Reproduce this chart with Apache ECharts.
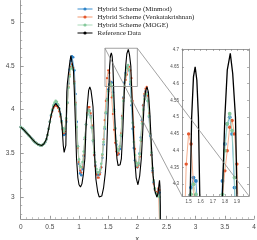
<!DOCTYPE html>
<html><head><meta charset="utf-8">
<script src="https://cdn.jsdelivr.net/npm/echarts@6/dist/echarts.min.js"></script>
<style>html,body{margin:0;padding:0;background:#fff}#c{width:257px;height:240px}</style>
</head><body><div id="c"></div>
<script>
// ---------- data ----------
const xNum = [0.00,0.02,0.04,0.06,0.08,0.10,0.12,0.14,0.16,0.18,0.20,0.22,0.24,0.26,0.28,0.30,0.32,0.34,0.36,0.38,0.40,0.42,0.44,0.46,0.48,0.50,
0.52,0.54,0.56,0.58,0.60,0.62,0.64,0.66,0.68,0.70,0.72,0.74,0.76,0.78,0.80,0.82,0.84,0.86,0.88,0.90,
0.92,0.94,0.96,0.98,1.00,1.02,1.04,1.06,1.08,1.10,1.12,1.14,1.16,1.18,1.20,1.22,1.24,1.26,1.28,1.30,
1.32,1.34,1.36,1.38,1.40,1.42,1.44,1.46,1.48,1.50,1.52,1.54,1.56,1.58,1.60,1.62,1.64,1.66,1.68,1.70,
1.72,1.74,1.76,1.78,1.80,1.82,1.84,1.86,1.88,1.90,1.92,1.94,1.96,1.98,2.00,2.02,2.04,2.06,2.08,2.10,
2.12,2.14,2.16,2.18,2.20,2.22,2.24,2.26,2.28,2.30,2.32,2.34,2.36,2.38,2.40,2.42];

const minmod = [3.80,3.79,3.78,3.765,3.75,3.735,3.72,3.705,3.69,3.675,3.66,3.645,3.63,3.62,3.61,3.60,3.595,3.59,3.59,3.60,3.61,3.63,3.66,3.71,3.78,3.86,
3.93,3.99,4.03,4.06,4.07,4.07,4.05,4.01,3.95,3.87,
3.78,3.71,3.72,3.86,4.08,4.30,4.46,4.56,4.61,4.60,
4.45,4.18,3.86,3.58,3.38,3.27,3.25,3.32,3.47,3.66,
3.83,3.95,4.00,3.99,3.93,3.80,3.64,3.48,3.36,3.28,
3.25,3.25,3.28,3.34,3.45,3.60,3.78,3.96,4.12,4.23,
4.29,4.32,4.31,4.20,4.00,3.78,3.60,3.50,3.49,3.55,
3.70,3.92,4.14,4.31,4.42,4.48,4.50,4.45,4.29,4.05,
3.78,3.56,3.42,3.35,3.34,3.38,3.50,3.68,3.88,4.05,
4.16,4.21,4.20,4.10,3.92,3.70,3.48,3.30,3.17,3.09,
3.05,3.04,3.08,3.05,2.20,1.10];

const venkat = [3.80,3.79,3.78,3.765,3.75,3.735,3.72,3.705,3.69,3.675,3.66,3.645,3.63,3.62,3.61,3.60,3.595,3.59,3.59,3.60,3.61,3.63,3.66,3.71,3.78,3.86,
3.92,3.98,4.02,4.04,4.05,4.04,4.02,3.98,3.92,3.85,
3.77,3.73,3.75,3.88,4.07,4.26,4.40,4.49,4.52,4.48,
4.32,4.08,3.80,3.56,3.40,3.30,3.28,3.34,3.48,3.66,
3.83,3.96,4.03,4.03,3.96,3.82,3.65,3.48,3.35,3.26,
3.22,3.22,3.26,3.34,3.48,3.66,3.88,4.10,4.36,4.45,
4.42,4.30,4.14,3.95,3.77,3.62,3.52,3.48,3.50,3.58,
3.73,3.93,4.13,4.26,4.34,4.40,4.47,4.49,4.45,4.36,
4.10,3.80,3.55,3.40,3.34,3.36,3.46,3.64,3.86,4.05,
4.18,4.24,4.26,4.16,3.96,3.72,3.48,3.28,3.15,3.08,
3.06,3.05,3.10,3.08,2.30,1.10];

const moge = [3.80,3.79,3.78,3.765,3.75,3.735,3.72,3.705,3.69,3.675,3.66,3.645,3.63,3.62,3.61,3.60,3.595,3.59,3.59,3.60,3.61,3.63,3.66,3.71,3.78,3.86,
3.94,4.00,4.05,4.08,4.10,4.09,4.06,4.01,3.94,3.86,
3.79,3.75,3.78,3.90,4.08,4.25,4.38,4.47,4.50,4.46,
4.30,4.06,3.80,3.58,3.43,3.35,3.34,3.40,3.52,3.68,
3.83,3.94,3.99,3.98,3.91,3.79,3.65,3.51,3.40,3.32,
3.28,3.28,3.31,3.38,3.49,3.63,3.80,3.97,4.11,4.21,
4.27,4.30,4.27,4.16,3.98,3.79,3.64,3.55,3.53,3.58,
3.71,3.90,4.10,4.27,4.40,4.48,4.51,4.46,4.32,4.10,
3.85,3.63,3.48,3.39,3.36,3.39,3.49,3.65,3.84,4.00,
4.12,4.18,4.18,4.10,3.93,3.72,3.51,3.33,3.19,3.10,
3.04,3.01,3.02,3.00,2.25,1.10];

const refX = [0,0.05,0.10,0.15,0.20,0.25,0.30,0.36,0.40,0.44,0.48,0.52,0.56,0.60,0.63,0.66,0.69,0.71,0.73,0.745,
0.757,0.767,0.774,0.782,0.79,0.80,0.82,0.84,0.86,0.875,0.89,0.905,0.92,0.935,0.957,0.98,1.00,1.025,1.05,1.075,
1.10,1.12,1.14,1.165,1.185,1.205,1.225,1.24,1.255,1.27,1.29,1.32,1.345,1.368,1.39,1.42,1.45,1.47,1.49,1.505,
1.513,1.525,1.54,1.554,1.568,1.581,1.592,1.61,1.63,1.65,1.67,1.686,1.705,1.726,1.75,1.78,1.80,1.82,1.845,1.865,
1.888,1.90,1.92,1.94,1.954,1.98,2.01,2.04,2.068,2.09,2.115,2.14,2.165,2.19,2.215,2.24,2.27,2.30,2.335,2.355,
2.37,2.38,2.388,2.394,2.396];
const refY = [3.80,3.77,3.735,3.70,3.66,3.625,3.60,3.59,3.61,3.66,3.78,3.93,4.03,4.07,4.065,4.02,3.92,3.80,3.59,3.51,
3.50,3.53,3.59,3.90,4.20,4.30,4.42,4.53,4.62,4.64,4.60,4.45,4.20,3.90,3.44,3.22,3.14,3.115,3.15,3.26,
3.44,3.80,4.03,4.22,4.26,4.22,4.12,4.03,3.75,3.44,3.20,3.06,3.00,2.99,3.01,3.10,3.27,3.44,3.85,4.15,
4.27,4.50,4.62,4.65,4.61,4.50,4.27,3.95,3.65,3.44,3.36,3.345,3.37,3.44,3.75,4.27,4.50,4.64,4.69,4.63,
4.50,4.27,3.95,3.62,3.44,3.22,3.14,3.24,3.44,3.72,4.05,4.21,4.26,4.20,3.95,3.60,3.25,3.07,3.00,3.04,
3.14,3.19,3.12,2.90,1.00];

const seriesNames = ['Hybrid Scheme (Minmod)','Hybrid Scheme (Venkatakrishnan)','Hybrid Scheme (MOGE)','Reference Data'];
const mainYTicks = [3,3.5,4,4.5,5];
const mainYMinor = [2.8,2.9,3.1,3.2,3.3,3.4,3.6,3.7,3.8,3.9,4.1,4.2,4.3,4.4,4.6,4.7,4.8,4.9,5.1,5.2];
const zoomX = [1.445, 2.0];
const zoomY = [4.265, 4.703];
const insetXTicks = [1.5,1.6,1.7,1.8,1.9];
const insetXTickMarks = [1.45,1.5,1.55,1.6,1.65,1.7,1.75,1.8,1.85,1.9,1.95];
const insetYTicks = [4.3,4.35,4.4,4.45,4.5,4.55,4.6,4.65,4.7];

// ---------- chart ----------
const AX = '#808080', LB = '#4a4a4a';
const pair = (xs, ys) => xs.map((x, i) => [x, ys[i]]);
const styles = [
  {line:'#3a8fd0', sym:'#2f84c8', size:2.6, w:0.8},
  {line:'#f29a72', sym:'#e4572e', size:2.2, w:0.8},
  {line:'#a9d9b8', sym:'#86c99c', size:2.6, w:0.8},
];
const dataSets = [pair(xNum, minmod), pair(xNum, venkat), pair(xNum, moge), pair(refX, refY)];

const series = [];
[[0,0],[1,2]].forEach(([xi, yi], gi) => {
  dataSets.forEach((d, k) => {
    const isRef = k === 3;
    series.push({
      type:'line', name: seriesNames[k], data: d, xAxisIndex: xi, yAxisIndex: yi,
      showSymbol: !isRef, showAllSymbol: true, symbol: 'circle',
      symbolSize: isRef ? 0 : (gi ? styles[k].size + 1.2 : styles[k].size),
      lineStyle: isRef ? {color:'#000', width: gi ? 1.3 : 1.1} : {color: styles[k].line, width: styles[k].w},
      itemStyle: isRef ? {color:'#000'} : {color: styles[k].sym},
      clip: true, silent: true, z: (gi ? 20 : 2) + (isRef ? 1 : k * 0.1)
    });
  });
});

const chart = echarts.init(document.getElementById('c'), null, {renderer:'canvas'});
const axLine = {show:true, lineStyle:{color:AX, width:0.8}};
chart.setOption({
  animation:false,
  backgroundColor:'#fff',
  legend:{
    data: seriesNames, orient:'vertical', left:77, top:5, padding:0,
    itemWidth:15, itemHeight:4, itemGap:0,
    lineStyle:{width:1},
    textStyle:{fontFamily:'Liberation Serif', fontSize:7, color:'#222', lineHeight:8}
  },
  grid:[
    {left:20.7, top:0.5, width:233.3, height:218.3, outerBoundsMode:'none', containLabel:false},
    {left:182, top:49, width:67, height:147, show:true, backgroundColor:'#fff', borderWidth:0, z:10, outerBoundsMode:'none', containLabel:false}
  ],
  xAxis:[
    {gridIndex:0, type:'value', min:0, max:4, interval:0.5,
     axisLine:axLine, axisTick:{inside:true, length:3, lineStyle:{color:AX, width:0.8}},
     minorTick:{show:true, splitNumber:5, length:1.5, lineStyle:{color:AX, width:0.6}},
     axisLabel:{fontSize:6.5, color:LB, margin:5, fontFamily:'Liberation Sans'},
     splitLine:{show:false}, minorSplitLine:{show:false},
     name:'x', nameLocation:'middle', nameGap:15, nameTextStyle:{fontSize:7, color:'#333', fontFamily:'Liberation Sans'}},
    {gridIndex:1, type:'value', min:zoomX[0], max:zoomX[1], position:'bottom', z:30,
     axisLine:axLine, axisTick:{inside:true, length:2, customValues:insetXTickMarks, lineStyle:{color:AX, width:0.6}},
     axisLabel:{fontSize:4.5, color:LB, margin:3, customValues:insetXTicks, fontFamily:'Liberation Sans'},
     splitLine:{show:false}},
    {gridIndex:1, type:'value', min:zoomX[0], max:zoomX[1], position:'top', z:30,
     axisLine:axLine, axisTick:{inside:true, length:2, customValues:insetXTickMarks, lineStyle:{color:AX, width:0.6}},
     axisLabel:{show:false}, splitLine:{show:false}}
  ],
  yAxis:[
    {gridIndex:0, type:'value', min:2.75, max:5.25, position:'left',
     axisLine:axLine, axisTick:{inside:true, length:3, customValues:mainYTicks, lineStyle:{color:AX, width:0.8}},
     axisLabel:{fontSize:6.5, color:LB, margin:6, customValues:mainYTicks, fontFamily:'Liberation Sans'},
     splitLine:{show:false},
     name:'Density', nameLocation:'middle', nameGap:15, nameTextStyle:{fontSize:6.5, color:'#333', fontFamily:'Liberation Sans'}},
    {gridIndex:0, type:'value', min:2.75, max:5.25, position:'left', offset:0,
     axisLine:{show:false}, axisTick:{inside:true, length:1.5, customValues:mainYMinor, lineStyle:{color:AX, width:0.6}},
     axisLabel:{show:false}, splitLine:{show:false}},
    {gridIndex:1, type:'value', min:zoomY[0], max:zoomY[1], position:'left', z:30,
     axisLine:axLine, axisTick:{inside:true, length:2, customValues:insetYTicks, lineStyle:{color:AX, width:0.6}},
     axisLabel:{fontSize:4.5, color:LB, margin:3, customValues:insetYTicks, fontFamily:'Liberation Sans'},
     splitLine:{show:false}},
    {gridIndex:1, type:'value', min:zoomY[0], max:zoomY[1], position:'right', offset:0, z:30,
     axisLine:axLine, axisTick:{inside:true, length:2, customValues:insetYTicks, lineStyle:{color:AX, width:0.6}},
     axisLabel:{show:false}, splitLine:{show:false}}
  ],
  series: series
});

// zoom rectangle and connector lines, positioned through the axes
const m = {xAxisIndex:0, yAxisIndex:0};
const ins = {xAxisIndex:1, yAxisIndex:2};
const pTL = chart.convertToPixel(m, [zoomX[0], zoomY[1]]);
const pTR = chart.convertToPixel(m, [zoomX[1], zoomY[1]]);
const pBR = chart.convertToPixel(m, [zoomX[1], zoomY[0]]);
const qBL = chart.convertToPixel(ins, [zoomX[0], zoomY[0]]);
const qBR = chart.convertToPixel(ins, [zoomX[1], zoomY[0]]);
const gs = {stroke:'#8a8a8a', lineWidth:0.8, fill:null};
chart.setOption({graphic:[
  {type:'rect', silent:true, z:100, shape:{x:pTL[0], y:pTL[1], width:pBR[0]-pTL[0], height:pBR[1]-pTL[1]}, style:{stroke:'#8a8a8a', lineWidth:0.8, fill:'rgba(0,0,0,0)'}},
  {type:'line', silent:true, z:100, shape:{x1:pTL[0], y1:pTL[1], x2:qBL[0], y2:qBL[1]}, style:gs},
  {type:'line', silent:true, z:100, shape:{x1:pTR[0], y1:pTR[1], x2:qBR[0], y2:qBR[1]}, style:gs}
]});
</script>
</body></html>
